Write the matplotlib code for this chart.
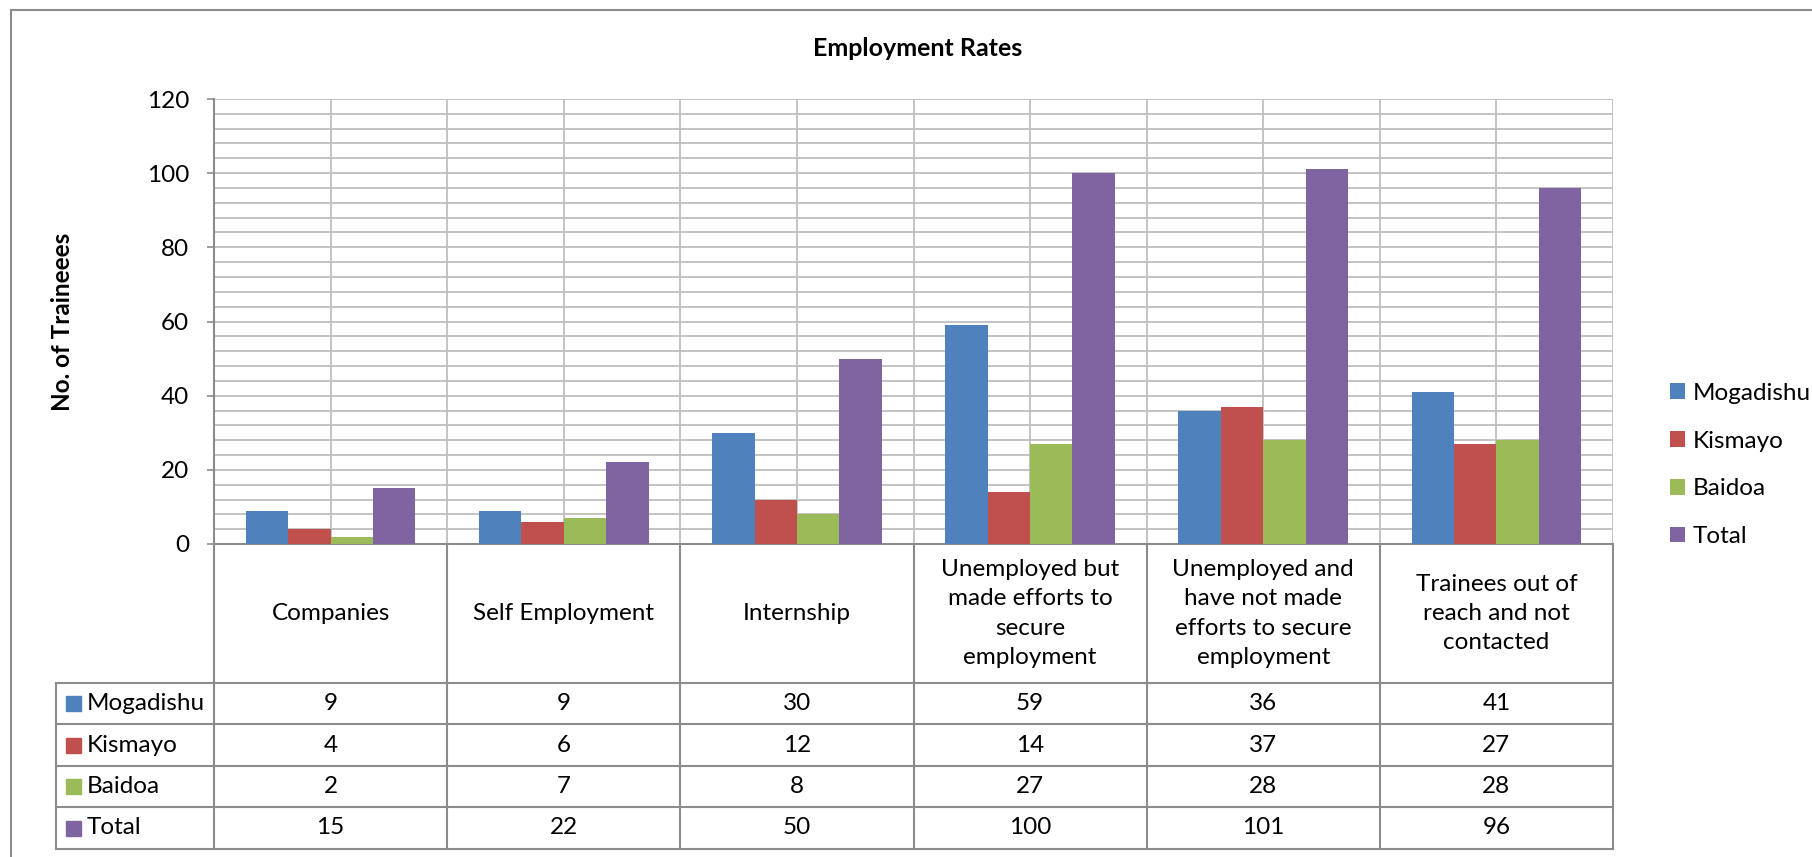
import numpy as np
import matplotlib
matplotlib.use("Agg")
import matplotlib.pyplot as plt
from matplotlib.lines import Line2D
from matplotlib.patches import Rectangle

# chart data
categories = ['Companies', 'Self Employment', 'Internship',
              'Unemployed but\nmade efforts to\nsecure\nemployment',
              'Unemployed and\nhave not made\nefforts to secure\nemployment',
              'Trainees out of\nreach and not\ncontacted']
series_names = ['Mogadishu', 'Kismayo', 'Baidoa', 'Total']
mogadishu = [9, 9, 30, 59, 36, 41]
kismayo = [4, 6, 12, 14, 37, 27]
baidoa = [2, 7, 8, 27, 28, 28]
total = [15, 22, 50, 100, 101, 96]
colors = ['#4F81BD', '#C0504D', '#9BBB59', '#8064A2']
series = [mogadishu, kismayo, baidoa, total]

W, H = 1812, 857
plt.rcParams['font.family'] = ['Lato', 'DejaVu Sans']
FS = 17.5
GRID = '#BEBEBE'
LINE = '#8C8C8C'

fig = plt.figure(figsize=(W / 100, H / 100), dpi=100)

# plot area in pixels
left, top, right, bottom = 214, 99, 1613, 544
ax = fig.add_axes([left / W, 1 - bottom / H, (right - left) / W, (bottom - top) / H])

n = len(categories)
bw = 1 / (len(series) + 1.5)
x = np.arange(n) + 0.5
bars = []
for j, (vals, c) in enumerate(zip(series, colors)):
    b = ax.bar(x + (j - 1.5) * bw, vals, width=bw, color=c, label=series_names[j], zorder=3)
    bars.append(b)

ax.set_xlim(0, n)
ax.set_ylim(0, 120)
ax.set_yticks(np.arange(0, 121, 20))
ax.set_yticks(np.arange(0, 121, 4), minor=True)
ax.set_xticks(np.arange(0, n + 1))
ax.set_xticks(x, minor=True)
ax.set_xticklabels([])
ax.grid(True, which='both', color=GRID, linewidth=1.3, zorder=0)
ax.tick_params(axis='x', which='both', length=0)
ax.tick_params(axis='y', which='major', length=5, width=1.2, color=LINE, pad=13, labelsize=FS)
ax.tick_params(axis='y', which='minor', length=0)
for s in ['top', 'right']:
    ax.spines[s].set_visible(False)
for s in ['left', 'bottom']:
    ax.spines[s].set_color(LINE)
    ax.spines[s].set_linewidth(1.5)

# overlay in pixel coordinates for table and chart frame
ov = fig.add_axes([0, 0, 1, 1], zorder=-1)
ov.set_xlim(0, W)
ov.set_ylim(H, 0)
ov.axis('off')

# chart frame
ov.add_line(Line2D([11, 11], [10, H], color=LINE, lw=1.5))
ov.add_line(Line2D([11, W], [10, 10], color=LINE, lw=1.5))

# data table
col_w = (right - left) / n
label_left = 56
row_edges = [683, 724, 766, 807, 849]
for k in range(n + 1):
    xx = left + k * col_w
    ov.add_line(Line2D([xx, xx], [bottom, row_edges[-1]], color=LINE, lw=1.5))
ov.add_line(Line2D([label_left, label_left], [row_edges[0], row_edges[-1]], color=LINE, lw=1.5))
for yy in row_edges:
    ov.add_line(Line2D([label_left, right], [yy, yy], color=LINE, lw=1.5))

for k, cat in enumerate(categories):
    ov.text(left + (k + 0.5) * col_w, (bottom + row_edges[0]) / 2, cat,
            ha='center', va='center', fontsize=FS, linespacing=1.48)

for r, (name, vals, c) in enumerate(zip(series_names, series, colors)):
    yc = (row_edges[r] + row_edges[r + 1]) / 2
    ov.add_patch(Rectangle((66, yc - 7.5), 15, 15, color=c))
    ov.text(87, yc, name, ha='left', va='center', fontsize=FS)
    for k, v in enumerate(vals):
        ov.text(left + (k + 0.5) * col_w, yc, str(v), ha='center', va='center', fontsize=FS)

# title and axis label
fig.text(918 / W, 1 - 49 / H, 'Employment Rates', ha='center', va='center',
         fontsize=18, fontweight='bold')
fig.text(62 / W, 1 - 322 / H, 'No. of Traineees', ha='center', va='center',
         rotation=90, fontsize=17.5, fontweight='bold')

# legend
fig.legend(handles=bars, labels=series_names, loc='center left',
           bbox_to_anchor=(1648 / W, 1 - 465 / H), frameon=False, fontsize=FS,
           handlelength=0.62, handleheight=0.62, handletextpad=0.33, labelspacing=1.1)

fig.savefig('out.png', dpi=100)
